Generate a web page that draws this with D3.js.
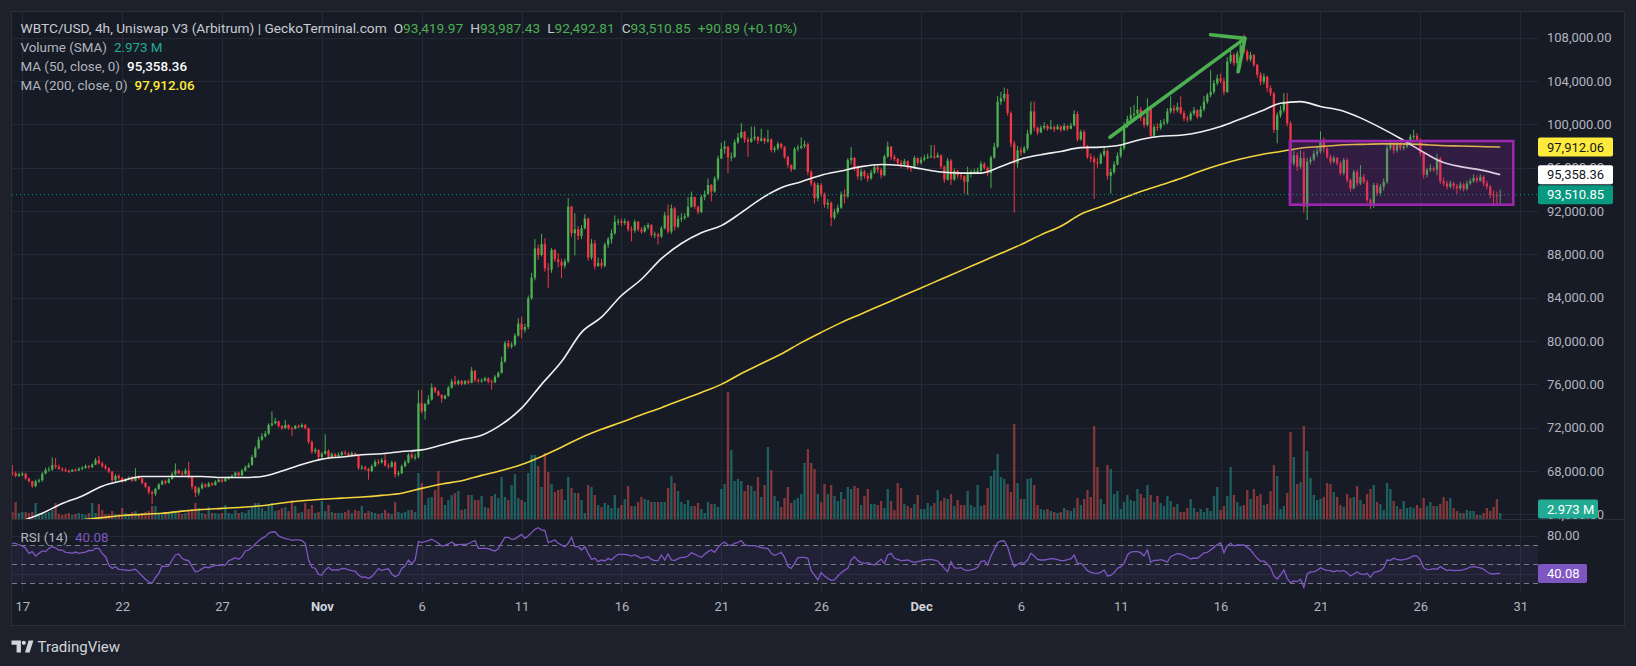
<!DOCTYPE html>
<html><head><meta charset="utf-8">
<script src="https://cdn.jsdelivr.net/npm/d3@7"></script>
<style>
html,body{margin:0;padding:0;background:#1e212c;}
svg{display:block;}
text{font-family:Roboto,"Noto Sans","DejaVu Sans",sans-serif;}
</style></head><body>
<svg id="chart" width="1636" height="666"></svg>
<script>
// ---------------- DATA (prices in thousands of USD, 4h candles) ----------------
const firstCandleUTC = "2024-10-16T12:00:00Z";
const candleHours = 4;
const firstOpen = 67.90;
const closes = [67.80,67.55,67.70,
67.75,67.30,67.05,66.60,67.05,67.15,
67.75,68.10,68.15,68.55,68.40,68.20,
68.10,68.00,67.95,68.10,68.05,68.20,
68.30,68.45,68.35,68.60,69.00,68.70,
68.45,68.25,67.95,67.15,67.55,67.35,
67.05,67.25,67.40,67.10,67.50,67.30,
66.90,66.55,66.05,65.90,66.35,66.75,
67.05,66.90,67.25,67.70,68.05,67.80,
67.75,68.05,67.45,66.55,66.00,66.40,
66.75,66.55,66.85,66.70,67.00,67.20,
67.05,67.30,67.40,67.55,67.85,67.60,
68.05,68.35,68.55,69.30,70.10,70.90,
71.20,71.45,72.25,72.40,72.60,72.15,
71.95,72.25,71.95,71.90,72.15,72.05,
72.25,71.95,70.70,69.80,69.95,69.30,
69.60,69.85,69.25,69.55,69.35,69.50,
69.70,69.60,69.40,69.65,69.40,68.30,
68.35,68.20,68.00,68.45,68.85,68.80,
69.00,68.50,68.40,68.80,67.70,67.80,
68.45,68.80,69.50,69.25,69.30,74.25,
73.50,74.20,74.60,75.70,75.35,75.00,
74.70,74.95,75.70,76.25,76.05,76.30,
76.05,76.30,76.15,77.25,76.40,76.30,
76.35,76.55,76.25,76.20,76.70,77.05,
78.10,79.80,79.50,79.65,80.50,81.60,
81.05,81.30,83.95,85.85,88.55,87.95,
88.95,86.70,86.60,88.40,87.55,87.30,
86.95,87.35,92.40,89.95,90.30,89.70,
90.40,91.30,87.70,89.00,86.90,87.20,
86.95,88.90,89.40,89.95,91.00,91.05,
90.90,91.05,90.30,90.20,91.00,90.30,
90.10,90.50,90.70,89.80,89.85,89.65,
90.40,91.60,90.10,92.25,90.55,91.30,
91.35,91.50,92.40,93.30,92.40,91.90,
93.30,93.60,94.40,93.80,95.00,96.85,
97.75,97.95,96.95,97.00,98.35,98.80,
99.30,98.60,98.40,98.70,98.85,98.50,
98.70,98.45,98.60,97.65,97.80,98.20,
97.90,97.00,96.25,95.85,97.75,97.85,
98.00,98.15,95.60,94.55,93.20,94.40,
93.60,92.60,92.75,91.40,91.90,92.30,
93.55,93.35,96.70,96.90,96.00,95.20,
95.65,95.25,95.00,95.55,96.05,95.80,
95.30,97.05,97.95,97.00,96.80,96.45,
96.30,96.60,96.00,95.95,96.90,96.45,
96.75,96.90,97.00,97.05,96.95,97.15,
96.10,94.90,96.65,94.90,95.70,95.30,
95.20,94.70,95.40,95.60,95.65,95.70,
96.35,96.00,95.50,96.95,97.95,102.10,
102.40,102.80,101.05,98.25,96.40,97.60,
97.40,97.80,99.15,101.20,99.70,99.25,
99.70,99.85,99.60,99.75,99.55,99.80,
99.50,99.85,99.60,99.90,100.95,98.60,
99.30,98.00,97.00,96.85,96.50,96.40,
97.20,97.55,95.25,95.60,96.30,97.10,
97.80,99.90,100.50,100.85,101.00,101.35,
100.60,99.95,101.45,98.95,99.75,99.70,
100.10,100.20,101.20,101.50,101.30,101.60,
101.05,100.55,100.45,101.00,101.30,100.70,
101.40,102.10,102.70,103.00,103.80,104.25,
104.00,103.00,105.80,106.40,105.65,106.55,
107.30,106.70,106.00,106.40,105.50,104.60,
103.95,104.40,103.35,102.85,99.50,100.85,
101.30,102.10,100.10,96.40,97.15,96.10,
96.90,92.40,96.55,96.75,97.30,97.50,
98.55,97.75,97.00,96.55,96.90,96.40,
95.50,96.70,94.85,94.10,95.60,94.55,
95.15,94.70,93.00,92.55,94.40,93.65,
94.25,94.70,97.80,98.25,97.60,98.25,
97.80,97.95,98.15,98.85,98.95,98.60,
97.35,95.35,95.80,95.95,95.80,96.85,
94.75,94.55,94.25,94.55,94.30,94.10,
94.45,94.05,94.55,94.75,95.05,94.80,
95.15,94.55,94.25,93.50,93.45,93.42,
93.51085];
const highs = [68.55,67.95,67.85,
67.90,67.85,67.40,67.10,67.20,67.30,
67.90,68.30,68.40,69.25,69.20,68.60,
68.35,68.30,68.15,68.20,68.25,68.35,
68.45,68.60,68.55,68.70,69.20,69.40,
68.90,68.60,68.35,68.00,67.70,67.70,
67.45,67.35,67.50,67.55,68.25,67.60,
67.40,67.00,66.60,66.20,66.45,66.90,
67.20,67.20,67.35,67.90,68.70,68.15,
68.00,68.25,68.85,67.55,66.65,66.55,
66.95,66.85,67.00,66.95,67.15,67.30,
67.30,67.50,67.55,67.70,67.95,67.95,
68.20,68.50,68.75,69.50,70.30,71.20,
71.50,71.70,72.40,73.50,72.90,72.65,
72.25,72.70,72.30,72.10,72.25,72.30,
72.40,72.35,72.00,70.80,70.15,70.00,
69.75,71.40,70.00,69.70,69.65,69.70,
69.85,69.90,69.75,69.80,69.70,69.50,
68.55,68.50,68.30,68.60,69.05,69.10,
69.20,69.60,68.70,68.95,68.90,68.00,
68.60,69.00,69.65,69.75,69.60,75.45,
75.50,74.30,75.00,76.10,75.80,75.45,
75.10,75.05,75.85,76.50,76.80,76.45,
76.40,76.40,76.45,77.60,77.35,76.55,
76.55,76.70,76.65,76.45,76.85,77.20,
78.55,80.00,80.10,79.90,80.70,82.10,
82.25,81.60,84.20,86.30,89.40,88.90,
89.90,89.50,87.20,88.60,88.50,88.10,
87.60,87.60,93.20,92.50,91.80,90.60,
90.70,91.70,91.40,89.40,89.30,87.70,
87.60,89.10,89.60,90.30,91.60,91.30,
91.30,91.30,91.10,90.60,91.20,91.10,
90.50,90.70,90.90,90.80,90.10,90.00,
90.60,91.90,92.60,92.60,92.40,91.60,
91.80,91.80,93.30,93.80,93.30,92.50,
93.50,93.90,95.00,94.50,95.20,97.10,
98.30,98.50,98.00,97.40,98.60,99.20,
100.10,99.40,98.80,99.80,99.80,98.90,
99.60,98.80,99.50,98.70,98.00,98.40,
98.30,98.00,97.10,96.30,97.90,98.10,
98.80,98.50,98.30,95.80,94.70,94.60,
94.60,93.70,93.10,92.90,92.20,92.60,
93.80,94.00,96.90,97.90,97.00,96.20,
95.90,95.80,95.50,95.80,96.30,96.20,
96.00,97.20,98.40,98.00,97.20,96.90,
96.70,96.80,96.70,96.20,97.10,96.95,
97.00,97.20,97.30,98.10,98.10,97.40,
97.20,96.20,96.90,96.80,95.90,95.80,
95.60,95.30,96.10,95.80,95.90,96.00,
96.60,96.50,96.10,97.10,98.30,102.60,
103.00,103.40,103.30,101.20,98.50,98.00,
97.90,98.00,99.50,102.10,102.10,99.80,
99.90,100.20,100.00,100.40,99.90,100.00,
99.90,100.10,99.95,100.15,101.30,101.20,
99.50,99.50,98.10,97.30,97.10,96.90,
97.40,97.90,97.70,95.90,96.60,97.40,
98.10,100.20,100.80,101.60,101.80,102.60,
101.60,100.80,102.40,101.60,100.00,100.10,
100.40,100.50,101.50,102.60,101.80,102.00,
102.60,101.30,100.80,101.20,101.60,101.40,
101.70,102.60,102.90,105.00,104.10,104.60,
104.70,104.30,106.20,106.80,106.60,106.80,
107.70,108.30,106.90,106.70,106.50,105.60,
104.80,104.70,104.50,103.60,103.00,101.10,
101.70,102.90,102.90,100.30,97.60,97.40,
97.60,97.50,96.90,97.00,97.60,98.00,
99.35,98.80,97.90,97.20,97.10,97.00,
96.60,96.90,96.90,95.00,95.80,95.80,
96.25,95.40,94.90,93.20,94.60,94.60,
94.50,95.00,98.10,98.60,98.40,98.50,
98.40,98.30,98.50,99.10,99.50,99.20,
98.70,97.50,96.00,96.30,96.10,97.30,
97.00,95.10,94.80,94.80,94.70,94.50,
94.70,94.60,94.80,95.00,95.40,95.30,
95.40,95.30,94.80,94.40,93.90,93.80,
93.98743];
const lows = [67.55,67.40,67.45,
67.50,67.20,66.95,66.45,66.50,66.90,
67.00,67.70,67.95,68.00,68.20,68.10,
67.95,67.90,67.80,67.90,67.95,68.00,
68.10,68.20,68.20,68.30,68.55,68.60,
68.30,68.10,67.80,67.00,67.00,67.20,
66.90,67.00,67.15,67.00,67.05,67.20,
66.75,66.40,65.85,64.95,65.70,66.25,
66.70,66.75,66.85,67.20,67.60,67.70,
67.55,67.60,67.30,66.30,65.60,65.75,
66.30,66.45,66.50,66.60,66.65,66.95,
66.90,67.00,67.20,67.35,67.50,67.50,
67.55,67.95,68.30,68.50,69.20,70.00,
70.80,71.10,71.35,72.10,72.30,72.00,
71.80,71.90,71.80,71.20,71.85,71.95,
72.00,71.85,70.50,69.60,69.60,69.00,
69.20,69.50,69.10,69.20,69.20,69.25,
69.40,69.45,69.25,69.30,69.30,68.10,
68.10,68.05,67.20,67.90,68.35,68.60,
68.70,68.40,68.20,68.30,67.40,67.50,
67.70,68.35,68.70,69.10,69.00,69.15,
73.30,72.75,74.10,74.50,75.20,74.90,
74.30,74.60,74.85,75.60,75.90,75.90,
75.90,75.95,76.00,76.10,76.20,76.10,
76.15,76.25,76.10,75.50,76.10,76.60,
77.00,78.00,79.30,79.30,79.50,80.40,
80.25,80.80,81.10,83.80,85.60,87.50,
87.80,86.40,84.90,86.30,87.30,86.80,
85.80,86.70,87.20,89.60,87.90,89.30,
89.40,90.30,87.40,87.50,86.60,86.90,
86.70,86.80,88.60,89.00,89.80,90.70,
90.60,90.70,90.10,89.20,90.00,90.10,
89.90,90.00,90.30,89.60,89.50,88.90,
89.50,90.30,89.90,89.90,90.20,90.40,
91.00,91.20,91.40,92.30,92.20,91.70,
91.80,93.00,93.50,92.90,93.70,94.80,
96.80,97.30,95.50,96.60,96.90,98.20,
98.70,98.30,97.00,98.30,98.50,98.20,
98.40,98.20,98.30,97.40,97.40,97.60,
97.70,96.80,96.00,95.60,95.80,97.50,
97.70,97.80,95.30,94.30,92.70,92.90,
93.30,92.30,92.20,90.60,91.20,91.70,
92.20,92.70,93.20,96.30,95.70,94.90,
94.80,95.00,94.70,94.90,95.40,95.50,
95.00,95.20,96.90,96.70,96.60,96.20,
96.00,96.20,95.80,95.60,95.90,96.20,
96.30,96.60,96.80,96.90,96.80,96.90,
95.90,94.60,94.80,94.40,94.80,95.00,
94.90,93.60,93.50,95.10,95.40,95.40,
95.60,95.80,95.20,94.10,96.80,97.80,
101.80,102.10,100.80,97.90,91.85,96.00,
97.10,97.30,97.60,99.00,99.40,99.00,
99.20,99.50,99.40,99.50,99.30,99.50,
99.30,99.40,99.40,99.55,99.80,98.40,
98.50,97.80,96.80,96.50,93.10,96.00,
96.30,97.00,94.90,93.60,95.40,96.20,
96.90,97.60,99.70,100.30,100.60,100.70,
100.30,99.70,99.80,98.70,98.80,99.40,
99.50,99.90,100.00,101.00,101.00,101.10,
100.90,100.30,100.20,100.30,100.80,100.50,
100.60,101.20,101.90,102.50,102.80,103.60,
103.80,102.70,102.90,105.60,105.40,104.70,
106.40,106.50,105.80,105.80,105.30,104.30,
103.60,103.70,103.00,102.60,99.20,98.25,
100.60,101.10,99.80,96.10,96.20,95.70,
95.90,91.85,91.17,96.30,96.60,97.00,
97.30,97.40,96.80,96.30,96.40,96.20,
95.30,95.30,94.60,93.80,94.00,94.30,
94.40,94.50,92.80,92.20,92.30,93.40,
93.40,93.90,94.50,97.60,97.30,97.40,
97.60,97.60,97.80,98.00,98.60,98.40,
97.10,95.00,95.10,95.60,95.60,95.30,
94.50,94.30,94.00,94.10,94.00,93.60,
93.90,93.80,93.90,94.40,94.60,94.60,
94.70,94.30,94.00,93.20,92.55,92.60,
92.49281];
// volume in millions
const volumes = [3.5,8.5,3.0,
3.5,3.5,3.0,3.5,8.0,2.5,
2.5,3.0,3.5,4.5,8.0,2.5,
2.0,2.5,3.0,2.0,2.5,3.0,
2.5,2.0,3.0,8.0,3.0,7.5,
4.5,2.5,2.5,4.0,2.5,2.5,
5.5,3.0,2.5,3.5,4.0,2.5,
3.0,3.5,4.0,6.5,6.5,3.0,
2.5,3.5,3.0,4.0,3.5,3.0,
2.5,3.0,4.0,5.0,8.0,5.5,
3.0,2.5,6.0,3.0,3.0,2.5,
3.0,7.0,3.0,2.5,4.5,3.0,
3.5,3.0,4.5,6.0,8.0,8.0,
5.5,4.0,7.0,8.0,4.0,4.5,
5.5,6.0,4.0,9.5,6.5,3.0,
3.5,8.0,5.0,7.0,3.0,3.5,
9.0,4.0,7.0,3.5,3.0,3.0,
3.0,3.5,4.5,3.0,4.5,4.0,
6.5,3.0,4.0,3.5,3.0,2.5,
3.0,4.5,3.0,2.5,8.5,3.5,
3.0,3.5,4.5,4.5,3.5,23.0,
18.0,7.0,10.5,11.0,14.5,24.0,
11.0,7.0,9.5,12.0,13.0,14.0,
4.5,5.0,12.0,12.0,9.5,9.5,
11.5,6.0,5.5,11.5,12.5,10.5,
21.0,11.0,9.5,17.0,22.5,10.5,
9.5,8.5,23.0,32.0,32.0,26.5,
16.0,33.0,23.5,17.5,13.5,14.5,
15.0,9.5,21.0,15.5,13.0,13.0,
9.5,3.0,17.0,16.0,12.0,7.0,
6.0,8.0,7.0,5.5,12.0,5.5,
7.0,10.0,16.5,6.5,6.5,8.5,
11.0,10.0,9.5,8.5,8.5,8.5,
8.5,8.5,15.5,21.5,18.0,14.0,
8.5,7.5,9.5,6.5,6.5,8.0,
5.0,3.0,8.5,7.5,7.5,6.0,
15.0,17.5,63.5,34.5,19.0,20.0,
19.0,14.0,17.0,16.5,14.0,21.0,
11.0,17.0,36.0,24.5,11.5,9.0,
6.0,10.5,16.0,8.0,9.5,10.5,
12.5,28.0,35.0,28.0,25.0,12.5,
8.5,17.5,12.5,17.0,11.5,9.0,
13.5,10.0,16.0,15.0,16.5,15.5,
7.0,11.5,15.0,7.5,7.5,7.0,
9.0,5.5,15.0,9.0,4.5,18.0,
15.5,7.5,6.5,5.5,7.5,12.0,
5.0,5.0,8.0,6.5,8.0,14.5,
9.0,10.5,10.0,12.5,6.5,9.5,
7.0,7.0,14.0,7.0,6.0,17.0,
6.5,7.0,15.5,21.5,24.5,32.5,
21.0,20.0,17.5,13.5,47.5,18.0,
10.0,10.0,20.0,20.5,17.0,7.0,
5.0,4.5,5.0,4.0,3.5,3.0,
3.5,5.5,4.5,4.0,5.5,10.5,
7.0,10.0,14.5,11.0,46.5,26.0,
10.0,7.5,27.0,25.0,12.5,14.0,
5.0,8.5,12.0,9.5,9.0,15.0,
12.5,10.5,17.0,12.0,8.5,11.5,
8.0,6.5,11.5,9.0,6.0,7.5,
3.5,3.5,5.5,10.0,5.5,3.5,
5.0,3.5,5.5,4.0,11.5,16.0,
4.5,6.5,11.5,26.0,12.0,8.5,
6.5,7.0,14.5,10.0,15.0,11.5,
12.5,7.0,7.5,14.0,27.0,21.5,
5.0,6.5,13.0,43.5,31.0,17.5,
18.5,46.5,34.0,20.5,12.0,9.5,
10.0,11.0,18.0,17.5,13.5,11.0,
7.0,6.0,12.5,10.5,11.0,16.5,
9.5,7.5,12.5,15.0,17.0,8.5,
7.5,4.5,18.0,15.0,9.0,6.5,
5.0,9.0,5.5,6.0,5.5,7.0,
5.5,10.5,6.5,8.5,6.5,6.5,
7.5,11.0,9.0,10.5,5.5,4.0,
3.0,3.0,4.5,4.0,4.0,2.0,
2.0,3.0,5.5,4.0,6.0,10.0,
2.973];
const rsiValues = [71.8,71.8,70.0,69.0,66.5,61.2,63.0,58.4,61.2,
63.7,63.0,66.5,68.2,66.8,64.7,
64.7,62.3,61.9,61.2,62.6,61.2,
61.9,62.6,64.4,64.0,66.5,66.5,
61.2,57.7,48.9,45.4,47.2,44.4,
44.0,43.7,43.0,43.7,44.4,40.9,
37.4,33.9,31.1,30.0,35.6,40.2,
47.9,47.2,47.9,54.2,59.5,60.5,
56.0,54.2,53.5,47.2,41.6,42.6,
45.1,46.8,46.1,47.5,48.6,48.6,
48.9,48.9,53.5,54.9,56.7,54.9,
57.7,63.7,64.7,67.5,71.1,74.6,
77.0,78.8,82.3,83.7,83.7,79.5,
78.1,76.7,76.3,74.9,75.3,75.3,
74.6,71.8,54.2,46.5,45.4,39.1,
38.4,43.7,46.5,43.7,43.7,43.7,
45.4,45.1,43.7,43.0,42.6,38.4,
36.0,36.3,34.6,36.7,40.9,45.1,
43.0,44.4,44.7,39.5,36.7,38.4,
45.4,48.2,54.2,50.0,54.2,73.5,
72.5,73.5,74.6,76.0,73.9,71.8,
68.9,69.6,71.1,73.2,70.4,70.4,
70.7,70.7,71.1,73.2,74.6,66.5,
66.5,66.5,66.1,64.7,63.7,66.1,
72.5,78.1,78.1,76.0,76.3,78.8,
81.2,77.0,79.8,83.0,86.5,88.2,
85.8,85.1,72.5,73.9,75.3,71.8,
70.0,68.2,71.8,78.1,68.2,68.2,
64.7,68.2,61.2,54.9,56.0,52.5,
54.2,53.2,56.0,54.2,57.7,60.2,
60.2,60.2,59.5,58.4,59.5,57.7,
56.0,57.0,57.7,54.9,53.5,53.5,
59.5,54.2,60.5,54.2,53.5,55.6,
57.0,57.0,58.4,61.9,60.5,58.4,
57.0,60.2,63.0,64.7,62.3,67.5,
71.1,73.2,70.0,69.6,71.8,72.8,
74.6,70.0,69.3,69.3,69.3,68.2,
67.2,66.8,66.1,61.2,59.1,60.5,
62.3,57.0,47.2,45.4,50.7,56.7,
57.0,57.0,56.0,43.0,38.4,33.2,
40.9,37.4,34.9,32.8,33.2,37.4,
40.9,43.3,45.4,54.2,57.7,53.5,
51.4,50.7,51.4,50.0,48.9,52.1,
54.9,50.7,59.5,61.2,56.0,54.9,
53.5,53.9,54.2,52.8,51.8,52.5,
53.2,54.2,54.6,54.9,54.2,53.2,
49.6,45.4,41.9,52.5,46.1,45.4,
46.1,43.7,43.0,43.7,44.7,46.5,
52.5,53.5,48.9,58.4,65.4,72.5,
74.2,74.2,68.2,56.0,47.2,49.6,
51.4,50.7,54.2,61.2,58.4,54.9,
54.2,54.2,54.9,55.6,55.3,54.6,
53.5,53.5,54.6,55.3,59.5,50.7,
50.7,47.2,43.0,41.2,40.5,40.2,
41.2,43.7,37.4,38.1,40.9,45.4,
47.2,50.7,59.5,62.6,63.0,63.0,
61.9,58.4,64.7,51.8,53.9,53.9,
54.6,53.5,52.1,57.7,59.5,60.9,
60.5,59.1,57.4,55.3,56.3,56.0,
58.8,61.6,62.3,64.7,67.5,70.4,
72.1,61.9,69.3,71.8,68.9,70.0,
70.0,70.0,67.5,64.7,60.2,56.0,
52.8,53.2,50.0,46.1,37.4,34.2,
38.4,43.7,34.9,30.4,32.1,31.4,
33.9,25.4,39.5,41.6,41.9,43.3,
46.1,44.4,43.3,43.0,41.9,43.0,
42.3,43.3,40.9,37.4,39.5,41.6,
39.5,38.8,40.2,36.0,40.9,41.9,
43.0,46.1,54.2,53.9,56.0,54.9,
54.2,54.6,55.3,56.7,58.8,58.4,
54.2,46.1,44.0,44.4,45.1,44.4,
47.2,45.1,43.0,43.7,43.0,43.3,
43.3,44.0,45.1,46.8,47.2,46.8,
45.8,44.4,41.9,39.8,39.5,39.8,
40.08];
// moving averages sampled at 00:00 UTC of each day, starting 2024-10-17
const maFirstDayUTC = "2024-10-17T00:00:00Z";
const ma50 = [63.4,64.1,65.0,65.7,66.6,67.1,67.5,67.5,67.5,67.5,
67.4,67.4,67.5,68.0,68.6,69.1,69.3,69.5,69.6,69.8,
69.95,70.4,70.9,71.3,72.3,73.8,76.0,78.1,80.8,82.2,
84.2,85.7,87.6,89.0,90.0,90.65,91.85,93.15,94.15,94.7,
95.3,95.7,96.1,96.3,96.2,95.9,95.6,95.5,95.5,96.1,
96.8,97.2,97.5,97.85,97.9,98.1,98.6,98.9,99.0,99.3,
99.8,100.5,101.2,101.95,102.1,101.65,101.3,100.6,99.7,98.7,
97.6,96.6,96.1,95.8,95.35836];
const ma200 = [63.0,63.2,63.4,63.5,63.7,63.9,64.0,64.1,64.3,64.45,
64.55,64.65,64.8,65.05,65.25,65.4,65.5,65.6,65.75,65.95,
66.4,66.8,67.1,67.6,68.05,68.6,69.35,70.2,71.1,71.85,
72.5,73.2,73.85,74.55,75.25,76.0,77.0,77.9,78.8,79.85,
80.8,81.7,82.5,83.3,84.1,84.9,85.7,86.5,87.3,88.1,
88.9,89.8,90.6,91.7,92.4,93.1,93.8,94.4,95.0,95.7,
96.3,96.8,97.2,97.5,97.8,97.95,98.1,98.15,98.2,98.2,
98.15,98.05,98.0,97.95,97.91206];
// legend values of the last candle
const lastOHLC = [93419.97, 93987.43, 92492.81, 93510.85];
const lastChange = [90.89, 0.10];
const lastVolume = 2.973;
const lastMA50 = 95358.36;
const lastMA200 = 97912.06;
const lastRSI = 40.08;
// axis ticks
const priceTicks = [108,104,100,96,92,88,84,80,76,72,68,64];
const rsiTicks = [80,40];
const rsiBands = [70,50,30];
const timeTickDates = ["2024-10-17","2024-10-22","2024-10-27","2024-11-01","2024-11-06","2024-11-11","2024-11-16","2024-11-21","2024-11-26","2024-12-01","2024-12-06","2024-12-11","2024-12-16","2024-12-21","2024-12-26","2024-12-31"];
// drawings (time, price in thousands)
const arrowShaft = [["2024-12-10T11:00:00Z",98.81],["2024-12-17T05:15:00Z",107.94]];
const arrowHead = [["2024-12-15T12:00:00Z",108.28],["2024-12-17T05:15:00Z",107.94],["2024-12-16T21:10:00Z",104.86]];
const rangeBox = [["2024-12-19T11:20:00Z",98.46],["2024-12-30T15:40:00Z",92.585]];

// ---------------- LAYOUT ----------------
const W = 1636, H = 666;
const L = 11, R = 1625, T = 11, B = 626;
const plotR = 1538;
const mainBottom = 519, rsiTop = 520, rsiBottom = 593;
const up = "#4caf50", down = "#f23645";
const gridCol = "#252935";
const axisText = "#b2b5be";

const svg = d3.select("#chart");
svg.append("rect").attr("width", W).attr("height", H).attr("fill", "#1e212c");
svg.append("rect").attr("x", L + 0.5).attr("y", T + 0.5).attr("width", R - L - 1).attr("height", B - T - 1)
  .attr("fill", "#171b26").attr("stroke", "#2a2e39");

const defs = svg.append("defs");
defs.append("clipPath").attr("id", "clipMain").append("rect").attr("x", L + 1).attr("y", T + 1).attr("width", plotR - L - 1).attr("height", mainBottom - T - 1);
defs.append("clipPath").attr("id", "clipRsi").append("rect").attr("x", L + 1).attr("y", rsiTop).attr("width", plotR - L - 1).attr("height", rsiBottom - rsiTop);

const t0 = Date.parse(firstCandleUTC);
const n = Math.min(closes.length, highs.length, lows.length, volumes.length, rsiValues.length);
const bars = d3.range(n).map(i => ({
  t: new Date(t0 + i * candleHours * 3600e3),
  o: i === 0 ? firstOpen : closes[i - 1],
  c: closes[i], h: highs[i], l: lows[i], v: volumes[i], r: rsiValues[i]
}));
const maT0 = Date.parse(maFirstDayUTC);
const maPts50 = ma50.map((v, d) => ({ t: new Date(maT0 + d * 864e5), v }));
const maPts200 = ma200.map((v, d) => ({ t: new Date(maT0 + d * 864e5), v }));

const x = d3.scaleUtc().domain([new Date(Date.UTC(2024, 9, 17)), new Date(Date.UTC(2024, 11, 31))]).range([22.3, 1520.2]);
const y = d3.scaleLinear().domain([64, 108]).range([514.35, 37.7]);
const yv = d3.scaleLinear().domain([0, 63.5]).range([mainBottom, 392]);
const yr = d3.scaleLinear().domain([30, 70]).range([583, 545]);
const timeTicks = timeTickDates.map(s => new Date(s + "T00:00:00Z"));

// grid
const grid = svg.append("g");
grid.selectAll("line.h").data(priceTicks).join("line")
  .attr("x1", L + 1).attr("x2", plotR).attr("y1", d => Math.round(y(d)) + 0.5).attr("y2", d => Math.round(y(d)) + 0.5)
  .attr("stroke", gridCol);
grid.selectAll("line.r").data(rsiTicks).join("line")
  .attr("x1", L + 1).attr("x2", plotR).attr("y1", d => Math.round(yr(d)) + 0.5).attr("y2", d => Math.round(yr(d)) + 0.5)
  .attr("stroke", gridCol);
grid.selectAll("line.v").data(timeTicks).join("line")
  .attr("x1", d => Math.round(x(d)) + 0.5).attr("x2", d => Math.round(x(d)) + 0.5)
  .attr("y1", T + 1).attr("y2", rsiBottom).attr("stroke", gridCol);

// pane separator
svg.append("line").attr("x1", L + 1).attr("x2", R - 1).attr("y1", mainBottom + 0.5).attr("y2", mainBottom + 0.5).attr("stroke", "#2a2e39");

// main pane
const main = svg.append("g").attr("clip-path", "url(#clipMain)");
const bw = 2.3;
main.append("g").selectAll("rect").data(bars).join("rect")
  .attr("x", d => x(d.t) - bw / 2).attr("width", bw)
  .attr("y", d => yv(d.v)).attr("height", d => mainBottom - yv(d.v))
  .attr("fill", d => d.c >= d.o ? "#26a69a" : "#ef5350").attr("fill-opacity", 0.5);

const candles = main.append("g");
candles.selectAll("line").data(bars).join("line")
  .attr("x1", d => x(d.t)).attr("x2", d => x(d.t))
  .attr("y1", d => y(d.h)).attr("y2", d => y(d.l))
  .attr("stroke", d => d.c >= d.o ? up : down).attr("stroke-width", 1);
candles.selectAll("rect").data(bars).join("rect")
  .attr("x", d => x(d.t) - bw / 2).attr("width", bw)
  .attr("y", d => y(Math.max(d.o, d.c)))
  .attr("height", d => Math.max(1, Math.abs(y(d.o) - y(d.c))))
  .attr("fill", d => d.c >= d.o ? up : down);

const maLine = d3.line().x(d => x(d.t)).y(d => y(d.v)).curve(d3.curveMonotoneX);
main.append("path").attr("d", maLine(maPts200)).attr("fill", "none").attr("stroke", "#f2d43c").attr("stroke-width", 1.6);
main.append("path").attr("d", maLine(maPts50)).attr("fill", "none").attr("stroke", "#f0f0f0").attr("stroke-width", 1.6);

// current price dotted line
const lastClose = closes[n - 1];
main.append("line").attr("x1", L + 1).attr("x2", plotR).attr("y1", y(lastClose)).attr("y2", y(lastClose))
  .attr("stroke", "#089981").attr("stroke-width", 1).attr("stroke-dasharray", "1,3");

// drawings
const bx0 = x(new Date(rangeBox[0][0])), bx1 = x(new Date(rangeBox[1][0]));
const by0 = y(rangeBox[0][1]), by1 = y(rangeBox[1][1]);
main.append("rect").attr("x", bx0).attr("y", by0).attr("width", bx1 - bx0).attr("height", by1 - by0)
  .attr("fill", "#9c27b0").attr("fill-opacity", 0.2).attr("stroke", "#9c27b0").attr("stroke-width", 2.6);
const annLine = d3.line().x(d => x(new Date(d[0]))).y(d => y(d[1]));
main.append("path").attr("d", annLine(arrowShaft)).attr("fill", "none").attr("stroke", "#4caf50").attr("stroke-width", 3.6).attr("stroke-linecap", "round");
main.append("path").attr("d", annLine(arrowHead)).attr("fill", "none").attr("stroke", "#4caf50").attr("stroke-width", 3.6).attr("stroke-linecap", "round").attr("stroke-linejoin", "round");

// RSI pane
const rsiG = svg.append("g").attr("clip-path", "url(#clipRsi)");
rsiG.append("rect").attr("x", L + 1).attr("width", plotR - L - 1).attr("y", yr(70)).attr("height", yr(30) - yr(70))
  .attr("fill", "#7e57c2").attr("fill-opacity", 0.1);
rsiG.selectAll("line.band").data(rsiBands).join("line")
  .attr("x1", L + 1).attr("x2", plotR).attr("y1", d => Math.round(yr(d)) + 0.5).attr("y2", d => Math.round(yr(d)) + 0.5)
  .attr("stroke", "#787b86").attr("stroke-dasharray", "5,4");
rsiG.append("path").attr("d", d3.line().x(d => x(d.t)).y(d => yr(d.r))(bars))
  .attr("fill", "none").attr("stroke", "#7e57c2").attr("stroke-width", 1.3);

// axes
const fmtPrice = d => d3.format(",.2f")(d * 1000);
const pAxis = svg.append("g").attr("transform", `translate(${plotR},0)`)
  .call(d3.axisRight(y).tickValues(priceTicks).tickSize(0).tickPadding(9).tickFormat(fmtPrice));
const rAxis = svg.append("g").attr("transform", `translate(${plotR},0)`)
  .call(d3.axisRight(yr).tickValues(rsiTicks).tickSize(0).tickPadding(9).tickFormat(d3.format(".2f")));
const tAxis = svg.append("g").attr("transform", `translate(0,${rsiBottom})`)
  .call(d3.axisBottom(x).tickValues(timeTicks).tickSize(0).tickPadding(9)
    .tickFormat(d => d.getUTCDate() === 1 ? d3.utcFormat("%b")(d) : d3.utcFormat("%-d")(d)));
[pAxis, rAxis, tAxis].forEach(g => {
  g.select(".domain").remove();
  g.attr("font-family", null).attr("font-size", null);
  g.selectAll("text").attr("fill", axisText).style("font-size", "13px");
});
tAxis.selectAll("text").filter(d => d.getUTCDate() === 1).attr("fill", "#d1d4dc").style("font-weight", "700");

// value tags on the price scale
function tag(yc, w, fill, txt, txtFill) {
  const g = svg.append("g");
  g.append("rect").attr("x", plotR).attr("y", yc - 9.5).attr("width", w).attr("height", 19).attr("rx", 2).attr("fill", fill);
  g.append("text").attr("x", plotR + 9).attr("y", yc).attr("dy", "0.35em").attr("fill", txtFill).style("font-size", "13px").text(txt);
}
const f2 = d3.format(",.2f");
tag(y(lastMA200 / 1000), 75, "#ffeb3b", f2(lastMA200), "#131722");
tag(y(lastMA50 / 1000), 75, "#ffffff", f2(lastMA50), "#131722");
tag(y(lastOHLC[3] / 1000), 75, "#089981", f2(lastOHLC[3]), "#ffffff");
tag(Math.min(yv(lastVolume), mainBottom - 10), 60, "#22ab94", d3.format(".3f")(lastVolume) + " M", "#ffffff");
tag(yr(lastRSI), 49, "#7e57c2", d3.format(".2f")(lastRSI), "#ffffff");

// legends
const legCol = "#b2b5be", green = "#4caf50";
const l1 = svg.append("text").attr("x", 20.5).attr("y", 28.5).attr("dy", "0.35em").style("font-size", "13.7px").attr("fill", "#c9cbd1");
l1.append("tspan").text("WBTC/USD, 4h, Uniswap V3 (Arbitrum) | GeckoTerminal.com");
["O", "H", "L", "C"].forEach((k, i) => {
  l1.append("tspan").attr("dx", 7).text(k);
  l1.append("tspan").attr("fill", green).text(f2(lastOHLC[i]));
});
l1.append("tspan").attr("dx", 7).attr("fill", green).text("+" + f2(lastChange[0]) + " (+" + d3.format(".2f")(lastChange[1]) + "%)");

function legendLine(yc, label, value, col, weight) {
  const t = svg.append("text").attr("x", 20.5).attr("y", yc).attr("dy", "0.35em").style("font-size", "13.4px").attr("fill", legCol);
  t.append("tspan").text(label);
  t.append("tspan").attr("dx", 7).attr("fill", col).style("font-weight", weight || "400").text(value);
}
legendLine(47.7, "Volume (SMA)", d3.format(".3f")(lastVolume) + " M", "#22ab94");
legendLine(66.7, "MA (50, close, 0)", f2(lastMA50), "#ffffff", "500");
legendLine(85.7, "MA (200, close, 0)", f2(lastMA200), "#ffeb3b", "500");
legendLine(537, "RSI (14)", d3.format(".2f")(lastRSI), "#7e57c2");

// TradingView branding
const logo = svg.append("g").attr("fill", "#d1d4dc");
logo.append("path").attr("d", "M11.5,640.4h9.4v12h-4.3v-7.6h-5.1z");
logo.append("circle").attr("cx", 23.8).attr("cy", 642.8).attr("r", 2.1);
logo.append("path").attr("d", "M25,652.4 L28.6,640.4 L33.4,640.4 L29.6,652.4 Z");
svg.append("text").attr("x", 37.5).attr("y", 646.5).attr("dy", "0.35em").attr("fill", "#d1d4dc")
  .style("font-size", "15px").text("TradingView");
</script>
</body></html>
